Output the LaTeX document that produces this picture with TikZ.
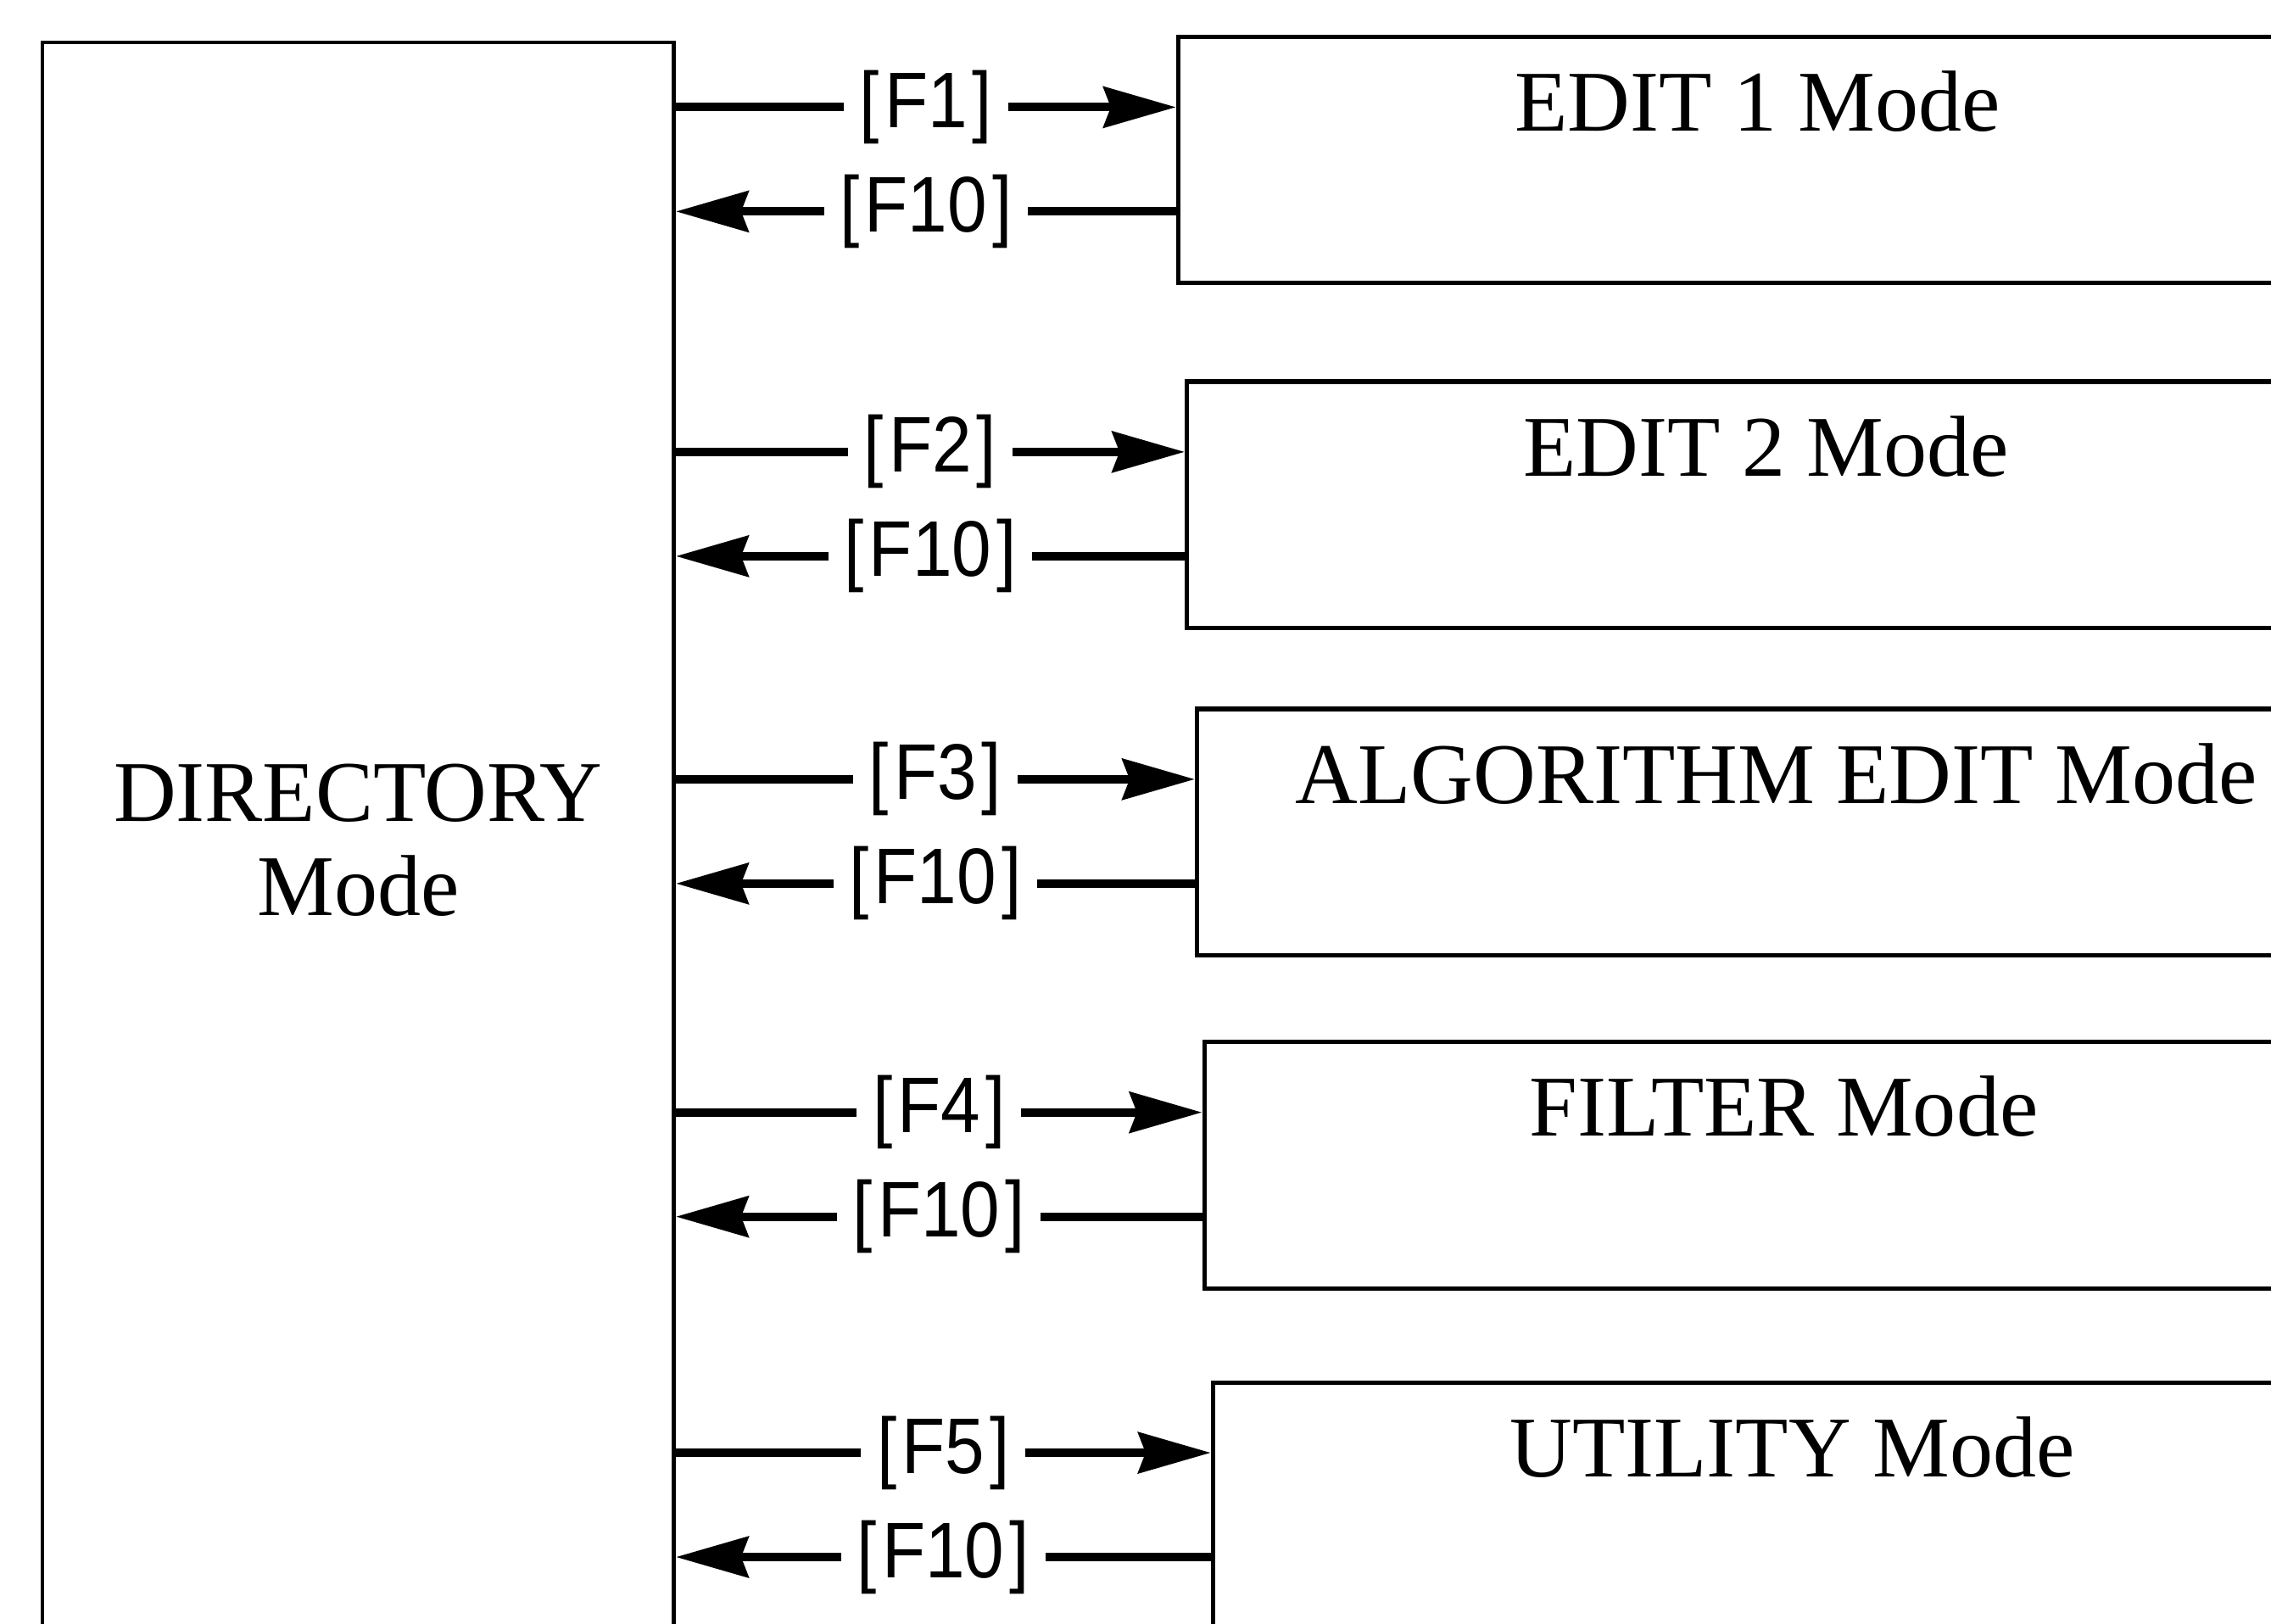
\documentclass[tikz,border=0pt]{standalone}
\usepackage{fontspec}
\setmainfont{Liberation Serif}
\newfontfamily\keyfont[FakeStretch=0.9]{Liberation Sans}
\usetikzlibrary{arrows.meta, positioning}
\tikzset{
  dirbox/.style={draw, line width=1.5pt, anchor=north west, minimum width=8.72cm, minimum height=22.04cm, align=center, font=\fontsize{34}{37}\selectfont},
  modebox/.style={draw, line width=1.7pt, anchor=north west, minimum width=16cm, inner sep=0pt, text height=1.3cm, text depth=2.1cm, font=\fontsize{34}{40}\selectfont},
  keyarr/.style={-{Stealth[length=1cm, width=0.56cm, inset=0.1cm]}, line width=3.4pt},
  keylbl/.style={fill=white, inner xsep=0.22cm, inner ysep=2pt, font=\keyfont\fontsize{31}{34}\selectfont}
}

\begin{document}
\begin{tikzpicture}
  \useasboundingbox (0,0) rectangle (31.36,-22.42);

  \node[dirbox] (dir) at (0.56,-0.56) {DIRECTORY\\Mode};

  % one mode box per function key, each with a key and a return arrow
  \foreach \txt/\key/\x/\y [count=\i] in {EDIT 1 Mode/F1/16.24/-0.48,
      EDIT 2 Mode/F2/16.36/-5.24,
      ALGORITHM EDIT Mode/F3/16.5/-9.76,
      FILTER Mode/F4/16.6/-14.36,
      UTILITY Mode/F5/16.72/-19.06} {
    \node[modebox] (m\i) at (\x,\y) {\txt};
    \coordinate (fwd\i) at ([yshift=-1cm]m\i.north west);
    \coordinate (bck\i) at ([yshift=-2.44cm]m\i.north west);
    \draw[keyarr] (dir.east |- fwd\i) -- node[keylbl] {[\kern2pt\key\kern2pt]} (fwd\i);
    \draw[keyarr] (bck\i) -- node[keylbl] {[\kern2pt F10\kern2pt]} (dir.east |- bck\i);
  }

\end{tikzpicture}
\end{document}
